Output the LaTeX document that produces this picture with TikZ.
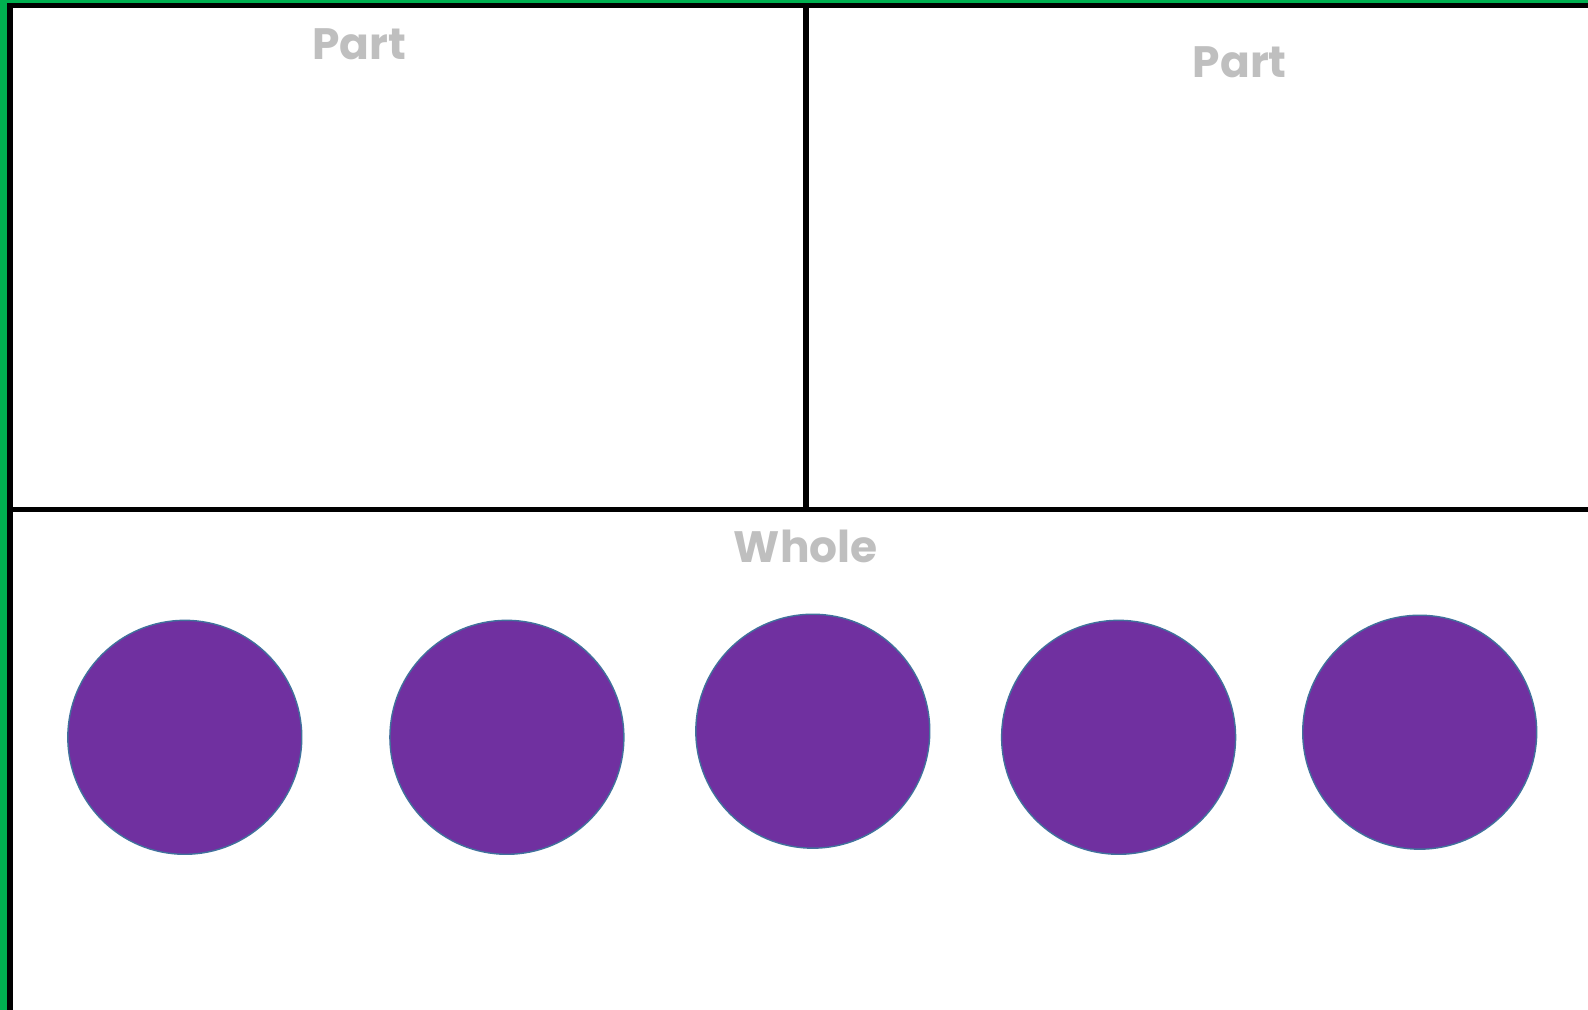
\documentclass[tikz,border=0pt]{standalone}
\usepackage{fontspec}
\setmainfont{Poppins}
\usetikzlibrary{positioning}
\definecolor{FrameGreen}{RGB}{0,176,80}
\definecolor{LabelGray}{RGB}{191,191,191}
\definecolor{CounterPurple}{RGB}{112,48,160}
\definecolor{CounterEdge}{RGB}{65,113,156}

\begin{document}
\begin{tikzpicture}[x=0.02cm, y=-0.02cm,
  mark label/.style={font=\fontsize{25}{30}\selectfont\bfseries, text=LabelGray, inner sep=0pt},
  counter/.style={circle, fill=CounterPurple, draw=CounterEdge, line width=0.8pt,
                  minimum size=4.68cm, inner sep=0pt},
  rule/.style={black, line width=3.4pt}]
\def\W{1588}
\def\H{1010}
\useasboundingbox (0,0) rectangle (\W,\H);

% ---- frame and dividers ----
\draw[rule] (0,5.4) -- (\W,5.4);
\draw[rule] (10,0) -- (10,\H);
\draw[rule] (806,5) -- (806,509.5);
\draw[rule] (10,509.5) -- (\W,509.5);
\fill[FrameGreen] (0,0) rectangle (7,\H);
\fill[FrameGreen] (0,0) rectangle (\W,2.7);

% ---- labels ----
\node[mark label] (partA) at (359.5,44) {Part};
\node[mark label] (partB) at (1239.7,62) {Part};
\node[mark label] (whole) at (805.7,546.5) {Whole};

% ---- counters ----
\foreach \i/\x/\y in {1/184.8/737.3, 2/506.9/737.3, 3/812.8/731.2, 4/1118.6/737.3, 5/1419.7/732.2}{
  \node[counter] (c\i) at (\x,\y) {};
}

\end{tikzpicture}
\end{document}
